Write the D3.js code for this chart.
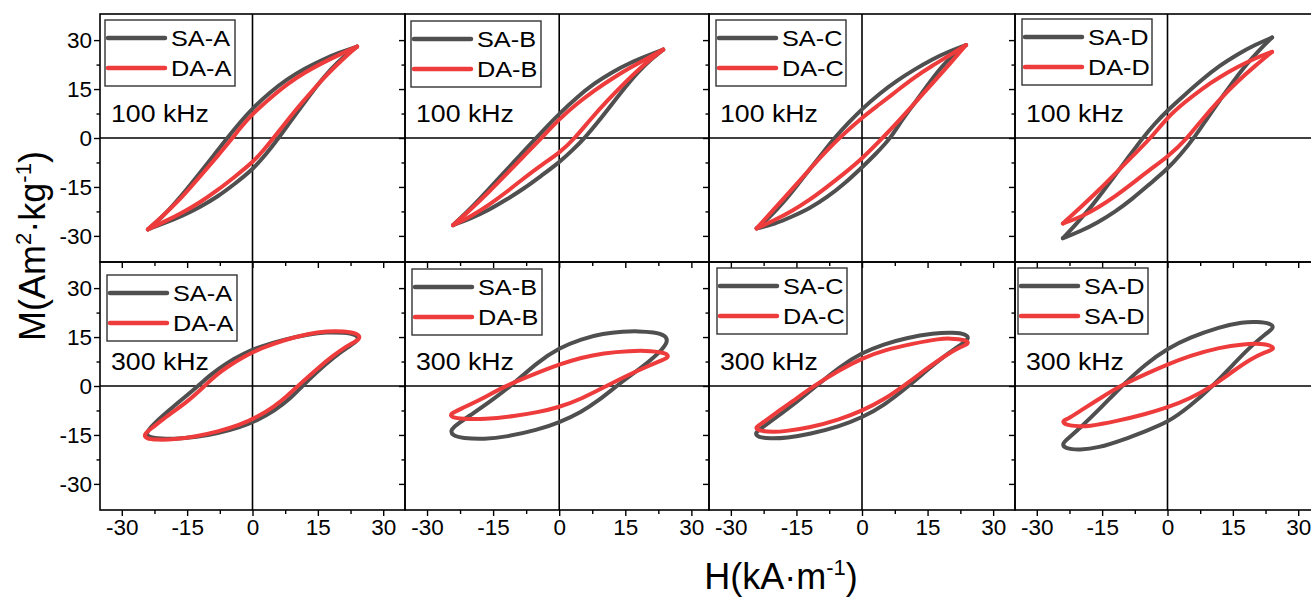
<!DOCTYPE html>
<html>
<head>
<meta charset="utf-8">
<script src="https://cdn.jsdelivr.net/npm/d3@7"></script>
<style>
  body { margin: 0; background: #fff; }
  svg { display: block; }
  text { font-family: "Liberation Sans", Arial, sans-serif; fill: #000; }
</style>
</head>
<body>
<svg id="chart" width="1311" height="598"></svg>
<script>
// ---- categories and labels ----
const samples = ["A", "B", "C", "D"];
const frequencies = ["100 kHz", "300 kHz"];
const legendLabels = [
  [["SA-A", "DA-A"], ["SA-B", "DA-B"], ["SA-C", "DA-C"], ["SA-D", "DA-D"]],
  [["SA-A", "DA-A"], ["SA-B", "DA-B"], ["SA-C", "DA-C"], ["SA-D", "SA-D"]]
];
const majorTicks = [-30, -15, 0, 15, 30];
const minorTicks = [-22.5, -7.5, 7.5, 22.5];

// ---- hysteresis loops [H (kA/m), M (Am2/kg)] ----
// upper branch runs from +Hmax to -Hmax, lower branch from -Hmax back to +Hmax

// 100 kHz
const saA100Up = [[24,28],[20,26.2],[16,24],[12,21.3],[8,18.1],[4,14],[0,9.1],[-3,4.6],[-6,-0.3],[-9,-5.5],[-12,-10.6],[-15,-15.6],[-18,-20.3],[-21,-24.6],[-24,-28]];
const saA100Lo = [[-24,-28],[-20,-26],[-16,-23.8],[-12,-21.1],[-8,-18],[-4,-14],[0,-9.7],[3,-5.2],[6,0],[9,5.6],[12,11],[15,16.4],[18,21.2],[21,25],[24,28]];
const daA100Up = [[24,28],[20,25.6],[16,23],[12,20.1],[8,16.6],[4,12.2],[0,7.4],[-2.5,3.6],[-5,-0.7],[-8,-5.5],[-11,-10.2],[-14,-14.8],[-17,-19.3],[-20.5,-23.8],[-24,-28]];
const daA100Lo = [[-24,-28],[-20,-25.5],[-16,-22.8],[-12,-19.7],[-8,-16],[-4,-11.8],[0,-7.5],[2.5,-3.8],[5,0.3],[8,5.4],[11,10.3],[14,14.9],[17,19.3],[20.5,23.9],[24,28]];

const saB100Up = [[23.6,27.1],[20,25.2],[16,23],[12,20.2],[8,16.8],[4,12.5],[0,7.4],[-3,3.2],[-6,-1.1],[-9,-5.4],[-12,-9.9],[-15,-14.2],[-18,-18.6],[-21,-22.8],[-24.1,-26.7]];
const saB100Lo = [[-24.1,-26.7],[-20,-24.6],[-16,-22.1],[-12,-18.9],[-8,-15.5],[-4,-11.5],[0,-7.5],[3,-3.8],[6,0.3],[9,5.2],[12,10.4],[15,15.6],[18,20.4],[21,24.3],[23.6,27.1]];
const daB100Up = [[23.6,27.1],[20,24.4],[16,21.5],[12,18.2],[8,14.6],[4,10.5],[0,5.8],[-4,0],[-8,-5.5],[-12,-11.1],[-16,-16.6],[-20,-21.8],[-24.1,-26.7]];
const daB100Lo = [[-24.1,-26.7],[-20,-24],[-16,-20.6],[-12,-16.6],[-8,-12.3],[-4,-8.2],[0,-4.7],[3.6,0],[7,5.6],[11,11.6],[15,17.1],[19,22.3],[23.6,27.1]];

const saC100Up = [[23.8,28.5],[20,26.6],[16,24.1],[12,21],[8,17.6],[4,13.6],[0,8.9],[-3,4.8],[-6.3,0],[-9,-4.6],[-12,-9.6],[-15,-14.8],[-18,-19.8],[-21,-24.1],[-24.1,-27.7]];
const saC100Lo = [[-24.1,-27.7],[-20,-26.4],[-16,-24.1],[-12,-21.6],[-8,-18.2],[-4,-14],[0,-9],[3,-5.1],[6.6,0],[9,5.3],[12,10.6],[15,16.2],[18,21.6],[21,25.6],[23.8,28.5]];
const daC100Up = [[23.8,28.5],[20,25.3],[16,22.1],[12,18.6],[8,14.5],[4,10.3],[0,6.3],[-5.2,0],[-8,-3.8],[-12,-9.6],[-16,-15.7],[-20,-21.6],[-24.1,-27.7]];
const daC100Lo = [[-24.1,-27.7],[-20,-25.2],[-16,-22.4],[-12,-19],[-8,-15],[-4,-10.8],[0,-6.4],[4.7,0],[8,4.6],[12,10.6],[16,16.6],[20,22.6],[23.8,28.5]];

const saD100Up = [[24,30.8],[20,28.5],[16,25.6],[12,22.2],[8,18],[4,13.3],[0,8.5],[-3,4.3],[-5.7,0],[-9,-5.9],[-12,-11.4],[-15,-16.7],[-18,-21.9],[-21,-26.4],[-24,-30.7]];
const saD100Lo = [[-24,-30.7],[-20,-28.6],[-16,-25.9],[-12,-22.6],[-8,-18.6],[-4,-14],[0,-9.5],[3,-5.1],[6.1,0],[9,5.8],[12,11.6],[15,17.2],[18,22.4],[21,26.9],[24,30.8]];
const daD100Up = [[24,26.4],[20,24.4],[16,21.7],[12,18.7],[8,15.2],[4,11],[0,6.4],[-3.8,0],[-8,-5.5],[-12,-10.9],[-16,-16.3],[-20,-21.3],[-24,-26.2]];
const daD100Lo = [[-24,-26.2],[-20,-24.3],[-16,-21.4],[-12,-17.9],[-8,-13.9],[-4,-9.6],[0,-5.9],[4.6,0],[8,5.8],[12,11.9],[16,17.3],[20,22],[24,26.4]];

// 300 kHz
const saA300Up = [[24.6,14.2],[23.8,15.8],[21,16.4],[17,16.5],[13,15.9],[7,14.2],[2,12.2],[-2,10],[-6,7],[-9.5,3.6],[-12.5,0],[-16,-3.9],[-19.5,-7.8],[-22.5,-11.4],[-24.6,-14.5]];
const saA300Lo = [[-24.6,-14.5],[-23.8,-15.7],[-21,-16.2],[-17,-16.2],[-13,-15.7],[-8,-14.5],[-3,-12.7],[1,-10.6],[5,-7.6],[8.5,-4.1],[11.4,0],[15,4.6],[18.6,8.8],[22,12],[24.6,14.2]];
const daA300Up = [[24.9,14.4],[24.3,16.1],[21,16.8],[17,16.8],[13,16.1],[7,14],[2,11.6],[-2,9],[-6,5.7],[-8.5,3.2],[-11,0],[-15,-4.9],[-19.5,-9.1],[-23,-12.8],[-25,-14.8]];
const daA300Lo = [[-25,-14.8],[-24.5,-16.1],[-22,-16.5],[-18,-16.4],[-13,-15.5],[-8,-14],[-3,-12],[1,-9.6],[5,-6.3],[8,-3],[10.4,0],[15,5.5],[18.6,9.4],[22,12.6],[24.9,14.4]];

const saB300Up = [[24.7,13.5],[24.2,15.5],[21.5,16.5],[18,16.8],[14.5,16.7],[10,16.1],[5,14.4],[0,11.7],[-5,7.2],[-10.4,0.6],[-15.7,-4.8],[-20,-8.8],[-23.5,-12],[-24.7,-13.6]];
const saB300Lo = [[-24.7,-13.6],[-24.2,-15.2],[-22,-16],[-17,-16.3],[-12,-15.6],[-5,-13.5],[0,-11.2],[5,-8],[9,-4.4],[13,0],[17,4],[20.5,7.6],[23,10.6],[24.7,13.5]];
const daB300Up = [[24.9,8.8],[24.4,10.1],[21,10.8],[16,10.8],[10,10.1],[5,8.7],[0,6.6],[-5,4],[-12.3,0],[-18,-4.3],[-22,-6.8],[-24.9,-8.6]];
const daB300Lo = [[-24.9,-8.6],[-24.4,-9.6],[-22,-10.1],[-17,-10.2],[-10,-9.2],[-5,-8.1],[0,-6.5],[5,-4],[10.7,0],[16,3.6],[20.5,6.3],[23.5,8],[24.9,8.8]];

const saC300Up = [[24.6,14.5],[23.8,15.9],[21,16.4],[16.4,16.2],[10,14.7],[5,12.8],[0,10.2],[-5,6],[-10.3,0.2],[-15,-5],[-20,-10],[-23.5,-13.4],[-24.5,-14.5]];
const saC300Lo = [[-24.5,-14.5],[-23.8,-15.7],[-21,-16.1],[-17.2,-15.9],[-12,-14.8],[-5,-12.3],[0,-9.7],[5,-6],[10.7,0],[15,5],[19,9.3],[22.5,12.6],[24.6,14.5]];
const daC300Up = [[24.6,13],[23.8,14.2],[20,14.6],[17.9,14.5],[12,13.1],[5,11],[0,8.5],[-5,5],[-11.1,0],[-16,-4.8],[-20,-8.5],[-23.2,-11.8],[-24.5,-12.7]];
const daC300Lo = [[-24.5,-12.7],[-23.6,-13.8],[-20,-14.1],[-17.9,-13.9],[-12,-12.8],[-5,-10.2],[0,-7.6],[5,-4.2],[9.5,0],[15,5.5],[19,9.3],[22.5,12],[24.6,13]];

const saD300Up = [[24.5,17.8],[23.8,19.2],[20.5,19.7],[17.3,19.6],[12,18.1],[5,14.8],[0,11.5],[-5,6.8],[-10.5,0],[-15,-6.3],[-20,-12.8],[-23.2,-16.5],[-24.2,-17.8]];
const saD300Lo = [[-24.2,-17.8],[-23.5,-19.2],[-20.1,-19.6],[-16,-19],[-10,-16.4],[-5,-13.8],[0,-11.2],[5,-6.4],[10.4,0],[15,6.5],[19,12],[22.5,16],[24.5,17.8]];
const daD300Up = [[24.6,11.2],[23.8,12.6],[20,13],[18.1,12.9],[12,11.9],[5,9.2],[0,6.6],[-5,3.7],[-10.9,0],[-15,-3.4],[-20,-7.6],[-23,-10.2],[-24.2,-10.7]];
const daD300Lo = [[-24.2,-10.7],[-23.5,-12],[-20,-12.4],[-18.5,-12.4],[-12,-10.9],[-5,-8.6],[0,-6.6],[5,-4],[10.4,0],[15,4.5],[19,8.2],[22.5,10.5],[24.6,11.2]];

// loops[row][col] = [first legend series, second legend series]
const loops = [
  [
    [{ up: saA100Up, lo: saA100Lo }, { up: daA100Up, lo: daA100Lo }],
    [{ up: saB100Up, lo: saB100Lo }, { up: daB100Up, lo: daB100Lo }],
    [{ up: saC100Up, lo: saC100Lo }, { up: daC100Up, lo: daC100Lo }],
    [{ up: saD100Up, lo: saD100Lo }, { up: daD100Up, lo: daD100Lo }]
  ],
  [
    [{ up: saA300Up, lo: saA300Lo }, { up: daA300Up, lo: daA300Lo }],
    [{ up: saB300Up, lo: saB300Lo }, { up: daB300Up, lo: daB300Lo }],
    [{ up: saC300Up, lo: saC300Lo }, { up: daC300Up, lo: daC300Lo }],
    [{ up: saD300Up, lo: saD300Lo }, { up: daD300Up, lo: daD300Lo }]
  ]
];

// ---- layout ----
const colLeft = [100, 405, 709, 1015];
const colWidth = [305, 304, 306, 305];
const rowTop = [14, 262];
const rowHeight = 248;
const xDomains = [[-35, 35], [-35, 34], [-35, 35], [-35, 35]];
const yDomain = [-38, 38];
const seriesColors = ["#4f4f4f", "#ee3b3b"];
const legendOffset = [[[5, 6], [6, 7], [7, 6], [7, 5]], [[7, 13], [7, 7], [8, 6], [3, 6]]];

const svg = d3.select("#chart");
const fmt = d => String(d);

frequencies.forEach((freq, r) => {
  samples.forEach((s, c) => {
    const x0 = colLeft[c], x1 = colLeft[c] + colWidth[c];
    const y0 = rowTop[r], y1 = rowTop[r] + rowHeight;
    const x = d3.scaleLinear().domain(xDomains[c]).range([x0, x1]);
    const y = d3.scaleLinear().domain(yDomain).range([y1, y0]);
    const g = svg.append("g").attr("class", "panel");

    // zero lines
    g.append("line").attr("x1", x(0)).attr("x2", x(0)).attr("y1", y0).attr("y2", y1)
      .attr("stroke", "#000").attr("stroke-width", 1.6);
    g.append("line").attr("x1", x0).attr("x2", x1).attr("y1", y(0)).attr("y2", y(0))
      .attr("stroke", "#000").attr("stroke-width", 1.6);

    // loops: 100 kHz branches meet in sharp tips, 300 kHz loops have rounded ends
    const openLine = d3.line().x(d => x(d[0])).y(d => y(d[1])).curve(d3.curveBasis);
    const closedLine = d3.line().x(d => x(d[0])).y(d => y(d[1])).curve(d3.curveBasisClosed);
    loops[r][c].forEach((loop, k) => {
      const style = p => p.attr("fill", "none").attr("stroke", seriesColors[k])
        .attr("stroke-width", 4).attr("stroke-linecap", "round").attr("stroke-linejoin", "round");
      if (r === 0) {
        g.append("path").attr("d", openLine(loop.up)).call(style);
        g.append("path").attr("d", openLine(loop.lo)).call(style);
      } else {
        const ring = loop.up.concat(loop.lo.slice(1, -1));
        g.append("path").attr("d", closedLine(ring)).call(style);
      }
    });

    // frame
    g.append("rect").attr("x", x0).attr("y", y0).attr("width", x1 - x0).attr("height", y1 - y0)
      .attr("fill", "none").attr("stroke", "#000").attr("stroke-width", 1.6);

    // left axis ticks (outward)
    const leftMajor = d3.axisLeft(y).tickValues(majorTicks).tickSize(6).tickPadding(2)
      .tickFormat(c === 0 ? fmt : () => "");
    const leftMinor = d3.axisLeft(y).tickValues(minorTicks).tickSize(3.5).tickFormat(() => "");
    [leftMajor, leftMinor].forEach(ax => {
      const a = g.append("g").attr("transform", `translate(${x0},0)`).call(ax);
      a.select(".domain").remove();
      a.selectAll("line").attr("stroke", "#000").attr("stroke-width", 1.4);
      a.selectAll("text").style("font-size", "22.5px").attr("fill", "#000");
    });

    // bottom axis ticks (outward)
    const botMajor = d3.axisBottom(x).tickValues(majorTicks).tickSize(6).tickPadding(3)
      .tickFormat(r === 1 ? fmt : () => "");
    const botMinor = d3.axisBottom(x).tickValues(minorTicks).tickSize(4).tickFormat(() => "");
    [botMajor, botMinor].forEach(ax => {
      const a = g.append("g").attr("transform", `translate(0,${y1})`).call(ax);
      a.select(".domain").remove();
      a.selectAll("line").attr("stroke", "#000").attr("stroke-width", 1.4);
      a.selectAll("text").style("font-size", "22.5px").attr("fill", "#000");
    });

    // legend
    const [ox, oy] = legendOffset[r][c];
    const lg = g.append("g").attr("transform", `translate(${x0 + ox},${y0 + oy})`);
    lg.append("rect").attr("width", 130).attr("height", 66)
      .attr("fill", "#fff").attr("stroke", "#333").attr("stroke-width", 1.4);
    legendLabels[r][c].forEach((lab, k) => {
      const ly = 18 + k * 30;
      lg.append("line").attr("x1", 3).attr("x2", 60).attr("y1", ly).attr("y2", ly)
        .attr("stroke", seriesColors[k]).attr("stroke-width", 4.5).attr("stroke-linecap", "round");
      lg.append("text").attr("transform", `translate(66,${ly + 8}) scale(1.15,1)`)
        .style("font-size", "22px").text(lab);
    });

    // frequency label
    g.append("text").attr("transform", `translate(${x0 + 11},${y0 + 108}) scale(1.09,1)`)
      .style("font-size", "24.5px").text(freq);
  });
});

// axis titles
const yt = svg.append("text").attr("transform", "translate(45,246) rotate(-90)")
  .attr("text-anchor", "middle").style("font-size", "36px");
yt.append("tspan").text("M(Am");
yt.append("tspan").attr("dy", -14).style("font-size", "22px").text("2");
yt.append("tspan").attr("dy", 14).text("·kg");
yt.append("tspan").attr("dy", -14).style("font-size", "22px").text("-1");
yt.append("tspan").attr("dy", 14).text(")");

const xt = svg.append("text").attr("transform", "translate(781,589)")
  .attr("text-anchor", "middle").style("font-size", "36px");
xt.append("tspan").text("H(kA·m");
xt.append("tspan").attr("dy", -14).style("font-size", "22px").text("-1");
xt.append("tspan").attr("dy", 14).text(")");
</script>
</body>
</html>
